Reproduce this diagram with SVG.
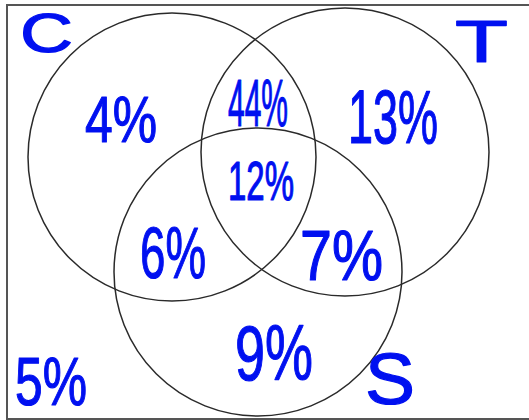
<svg xmlns="http://www.w3.org/2000/svg" width="529" height="420" viewBox="0 0 529 420">
<style>
.set{fill:none;stroke:#2a2a2a;stroke-width:1.5}
.hand{fill:#0010f0;stroke:#0010f0;stroke-width:1.2;stroke-linejoin:round;font-family:"Liberation Sans","DejaVu Sans",sans-serif}
.frame{fill:#fff;stroke:#555;stroke-width:2}
</style>
<rect class="frame" x="7" y="5" width="530" height="414"/>
<g id="connectors"></g>
<g id="setC">
<circle class="set" cx="172" cy="157" r="144"/>
<text class="hand" x="20" y="52" font-size="56" textLength="53" lengthAdjust="spacingAndGlyphs">C</text>
</g>
<g id="setT">
<circle class="set" cx="345" cy="152" r="144"/>
<text class="hand" x="455" y="62" font-size="60" textLength="53" lengthAdjust="spacingAndGlyphs">T</text>
</g>
<g id="setS">
<circle class="set" cx="258" cy="272" r="144"/>
<text class="hand" x="365" y="404" font-size="72" textLength="50" lengthAdjust="spacingAndGlyphs">S</text>
</g>
<g id="regionC"><text class="hand" x="85" y="142" font-size="65" textLength="72" lengthAdjust="spacingAndGlyphs">4%</text></g>
<g id="regionCT"><text class="hand" x="228" y="126" font-size="66" textLength="60" lengthAdjust="spacingAndGlyphs">44%</text></g>
<g id="regionT"><text class="hand" x="348" y="143" font-size="76" textLength="90" lengthAdjust="spacingAndGlyphs">13%</text></g>
<g id="regionCTS"><text class="hand" x="228" y="200" font-size="56" textLength="66" lengthAdjust="spacingAndGlyphs">12%</text></g>
<g id="regionCS"><text class="hand" x="140" y="278" font-size="72" textLength="66" lengthAdjust="spacingAndGlyphs">6%</text></g>
<g id="regionTS"><text class="hand" x="300" y="280" font-size="70" textLength="83" lengthAdjust="spacingAndGlyphs">7%</text></g>
<g id="regionS"><text class="hand" x="235" y="380" font-size="78" textLength="78" lengthAdjust="spacingAndGlyphs">9%</text></g>
<g id="outside"><text class="hand" x="15" y="405" font-size="68" textLength="72" lengthAdjust="spacingAndGlyphs">5%</text></g>
</svg>
